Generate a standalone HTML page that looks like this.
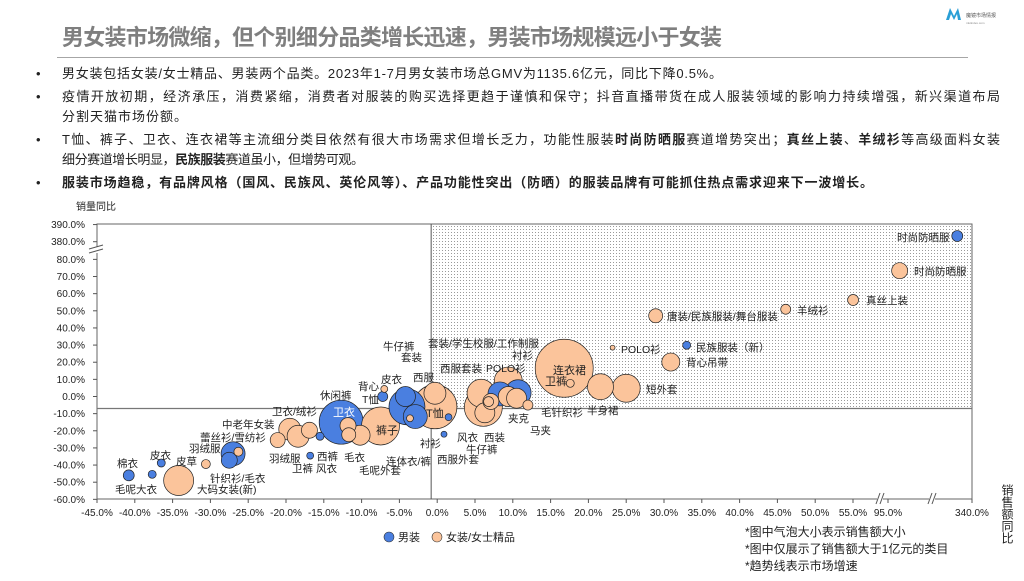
<!DOCTYPE html>
<html><head><meta charset="utf-8">
<style>
body{margin:0;background:#fff;}
svg text{font-family:"Liberation Sans","Noto Sans CJK SC",sans-serif;}
</style></head>
<body>
<svg id="page" width="1024" height="576" viewBox="0 0 1024 576" xmlns="http://www.w3.org/2000/svg">
<defs>
<pattern id="dots" width="3" height="3" patternUnits="userSpaceOnUse"><rect width="3" height="3" fill="#fff"/><rect x="1" y="1" width="1" height="1" fill="#9a9a9a"/></pattern>
</defs>
<text x="62" y="45" font-size="22" font-weight="bold" fill="#7f7f7f" textLength="660" lengthAdjust="spacing">男女装市场微缩，但个别细分品类增长迅速，男装市场规模远小于女装</text>
<line x1="57" y1="57.5" x2="968" y2="57.5" stroke="#a6a6a6" stroke-width="1"/>
<g>
<path d="M946 20 L950 8 L954 16 L958 8 L961 20 L958 20 L957 14 L954 20 L951 14 L949 20 Z" fill="#2a9fd6"/>
<text x="966" y="17" font-size="5" fill="#555">魔镜市场情报</text>
<text x="966" y="24" font-size="3" fill="#888">mktindex.com</text>
</g>
<g font-size="13" fill="#222">
<text x="36" y="78">•</text><text x="62" y="78" textLength="660" lengthAdjust="spacing">男女装包括女装/女士精品、男装两个品类。2023年1-7月男女装市场总GMV为1135.6亿元，同比下降0.5%。</text>
<text x="36" y="101">•</text><text x="62" y="101" textLength="938" lengthAdjust="spacing">疫情开放初期，经济承压，消费紧缩，消费者对服装的购买选择更趋于谨慎和保守；抖音直播带货在成人服装领域的影响力持续增强，新兴渠道布局</text>
<text x="62" y="121" textLength="125" lengthAdjust="spacing">分割天猫市场份额。</text>
<text x="36" y="144">•</text><text x="62" y="144" textLength="938" lengthAdjust="spacing">T恤、裤子、卫衣、连衣裙等主流细分类目依然有很大市场需求但增长乏力，功能性服装<tspan font-weight="bold">时尚防晒服</tspan>赛道增势突出；<tspan font-weight="bold">真丝上装</tspan>、<tspan font-weight="bold">羊绒衫</tspan>等高级面料女装</text>
<text x="62" y="164" textLength="302" lengthAdjust="spacing">细分赛道增长明显，<tspan font-weight="bold">民族服装</tspan>赛道虽小，但增势可观。</text>
<text x="36" y="187">•</text><text x="62" y="187" font-weight="bold" textLength="811" lengthAdjust="spacing">服装市场趋稳，有品牌风格（国风、民族风、英伦风等）、产品功能性突出（防晒）的服装品牌有可能抓住热点需求迎来下一波增长。</text>
</g>
<g id="chart"></g>
<g>
<circle cx="389" cy="537" r="5" fill="#4a7fe0" stroke="#333" stroke-width="0.6"/>
<text x="398" y="541" font-size="11" fill="#222">男装</text>
<circle cx="437" cy="537" r="5" fill="#fbc49b" stroke="#333" stroke-width="0.6"/>
<text x="446" y="541" font-size="11" fill="#222">女装/女士精品</text>
</g>
<g font-size="12" fill="#222">
<text x="745" y="536">*图中气泡大小表示销售额大小</text>
<text x="745" y="553">*图中仅展示了销售额大于1亿元的类目</text>
<text x="745" y="570">*趋势线表示市场增速</text>
</g>
<script>
const categories=["棉衣","毛呢大衣","皮衣","大码女装(新)","皮草","针织衫/毛衣","蕾丝衫/雪纺衫","羽绒服","羽绒服","中老年女装","卫衣/绒衫","卫裤","西裤","风衣","卫衣","休闲裤","毛衣","毛呢外套","裤子","背心","T恤","西服","套装","牛仔裤","衬衫","T恤","皮衣","西服外套","衬衫","西服套装","套装/学生校服/工作制服","风衣","西装","牛仔裤","POLO衫","夹克","马夹","衬衫","卫裤","毛针织衫","连衣裙","卫裤","半身裙","短外套","背心吊带","POLO衫","民族服装（新）","唐装/民族服装/舞台服装","羊绒衫","真丝上装","时尚防晒服","时尚防晒服"];
const gender=["m","m","m","f","f","m","m","f","f","f","f","f","m","m","m","f","f","f","f","f","m","m","m","m","f","f","f","m","m","f","f","f","f","f","m","m","f","f","f","f","f","f","f","f","f","f","m","f","f","f","f","m"];
const salesGrowth=[-40.8,-37.7,-36.5,-34.2,-30.6,-27.5,-27.0,-26.3,-21.1,-19.5,-18.4,-16.9,-15.5,-16.8,-12.7,-11.8,-11.7,-10.2,-7.5,-7.0,-7.2,-4.0,-4.2,-2.9,-3.6,-0.3,-0.3,1.5,0.9,5.8,6.1,6.3,6.8,7.1,8.3,10.7,12.0,9.4,9.4,10.5,16.8,17.6,21.6,25.0,30.9,23.2,33.0,28.9,46.1,55.1,129,297];
const volumeGrowth=[-46,-45.4,-38.8,-49,-39.4,-37.2,-33.4,-32.2,-25.4,-19.1,-23.2,-19.7,-23.2,-34.5,-15,-17,-22.3,-22.6,-17.2,4.4,0,-6,0,-11.7,-12.7,-6,1.9,-12.1,-22,1.9,-6.3,-9.5,-3,-2.9,1.5,2.2,-5,9.0,0,-1,16.5,7.7,5.7,4.8,20.1,28.5,29.9,47.1,50.9,56.3,73.4,383.3];
const salesSize=[30,16,16,225,20,64,144,20,56,121,121,64,16,12,484,64,49,100,361,12,25,324,100,144,12,484,121,12,9,196,361,100,25,64,144,169,25,196,100,100,841,16,169,196,81,6,16,49,25,30,64,30];
const xTicks=[-45,-40,-35,-30,-25,-20,-15,-10,-5,0,5,10,15,20,25,30,35,40,45,50,55,95,340];
const yTicks=[-60,-50,-40,-30,-20,-10,0,10,20,30,40,50,60,70,80,380,390];
const marketX=-0.8, marketY=-7;
const labels=[["棉衣",117,467],["毛呢大衣",115,493],["皮衣",150,459],["皮草",176,465],["大码女装(新)",197,493],["羽绒服",189,452],["蕾丝衫/雪纺衫",200,441],["中老年女装",222,428],["针织衫/毛衣",210,482],["卫衣/绒衫",272,415],["羽绒服",269,462],["卫裤",292,472],["风衣",316,472],["西裤",317,460],["毛衣",344,461],["休闲裤",320,399],["毛呢外套",359,474],["连体衣/裤",386,465],["背心",358,390],["皮衣",381,383],["T恤",362,403],["牛仔裤",383,350],["套装",401,361],["西服",413,381],["套装/学生校服/工作制服",428,347],["西服套装",440,372],["POLO衫",486,372],["衬衫",512,359],["衬衫",420,447],["西服外套",437,463],["风衣",457,441],["西装",484,441],["牛仔裤",466,453],["夹克",508,422],["马夹",530,434],["毛针织衫",541,416],["半身裙",587,414],["短外套",646,393],["POLO衫",621,353],["民族服装（新）",696,351],["背心吊带",686,366],["唐装/民族服装/舞台服装",667,320],["羊绒衫",797,314],["真丝上装",866,304],["时尚防晒服",914,275],["时尚防晒服",897,241]];
const innerLabels=[["连衣裙",553,374,"#222"],["卫裤",545,385,"#222"],["裤子",376,434,"#222"],["T恤",426,417,"#222"],["卫衣",333,416,"#fff"]];

function X(v){ if(v<=55) return 97+(v+45)*7.56; if(v<=95) return 853+(v-55)*35/40; return 888+(v-95)*84/245; }
function Y(v){ if(v<=85) return 396.5-v*1.714; return 241.7-(v-380)*1.714; }
const NS="http://www.w3.org/2000/svg";
const g=document.getElementById('chart');
function mk(t,a,p){const e=document.createElementNS(NS,t);for(const k in a)e.setAttribute(k,a[k]);(p||g).appendChild(e);return e;}
const L=97,R=972,T=224,B=499;
const mx=X(marketX), my=Y(marketY);
let e=mk('rect',{x:mx,y:T,width:R-mx,height:my-T,fill:'url(#dots)'});


e=mk('rect',{x:L,y:T,width:R-L,height:B-T,fill:'none',stroke:'#666','stroke-width':1});


e=mk('line',{x1:L,y1:my,x2:R,y2:my,stroke:'#777','stroke-width':1.2});


e=mk('line',{x1:mx,y1:T,x2:mx,y2:B,stroke:'#555','stroke-width':1});


yTicks.forEach(v=>{const y=Y(v);
 mk('line',{x1:L-4,y1:y,x2:L,y2:y,stroke:'#555'});
 const t=mk('text',{x:L-12,y:y+3.5,'font-size':10,'text-anchor':'end',fill:'#222'});t.textContent=v.toFixed(1)+'%';
 
 });
xTicks.forEach(v=>{const x=X(v);
 mk('line',{x1:x,y1:B,x2:x,y2:B+4,stroke:'#555'});
 const t=mk('text',{x:x,y:B+17,'font-size':10,'text-anchor':'middle',fill:'#222'});t.textContent=v.toFixed(1)+'%';
 
 });
[[L,250]].forEach(p=>{mk('rect',{x:p[0]-7,y:p[1]-3,width:14,height:6,fill:'#fff'});mk('line',{x1:p[0]-8,y1:p[1]-1,x2:p[0]+6,y2:p[1]-5,stroke:'#555'});mk('line',{x1:p[0]-8,y1:p[1]+3,x2:p[0]+6,y2:p[1]-1,stroke:'#555'});});
[880,932].forEach(x=>{mk('rect',{x:x-3,y:B-6,width:6,height:12,fill:'#fff'});mk('line',{x1:x-4,y1:B+5,x2:x,y2:B-6,stroke:'#555'});mk('line',{x1:x,y1:B+5,x2:x+4,y2:B-6,stroke:'#555'});});
let yt=mk('text',{x:76,y:210,'font-size':10,fill:'#222'});yt.textContent='销量同比';


let xt=mk('text',{x:1007,y:484,'font-size':12,fill:'#222','writing-mode':'tb','text-anchor':'start'});xt.textContent='销售额同比';


const order=categories.map((c,i)=>i).sort((a,b)=>salesSize[b]-salesSize[a]);
order.forEach(i=>{
 const c=mk('circle',{cx:X(salesGrowth[i]),cy:Y(volumeGrowth[i]),r:Math.sqrt(salesSize[i]),fill:gender[i]==='m'?'#4a7fe0':'#fbc49b',stroke:'#222','stroke-width':0.7});
 
 
});
labels.forEach(l=>{const t=mk('text',{x:l[1],y:l[2],'font-size':10.5,fill:'#222'});t.textContent=l[0];
 
 });
innerLabels.forEach(l=>{const t=mk('text',{x:l[1],y:l[2],'font-size':11,fill:l[3]});t.textContent=l[0];
 
 });
</script>
</svg>
</body></html>
